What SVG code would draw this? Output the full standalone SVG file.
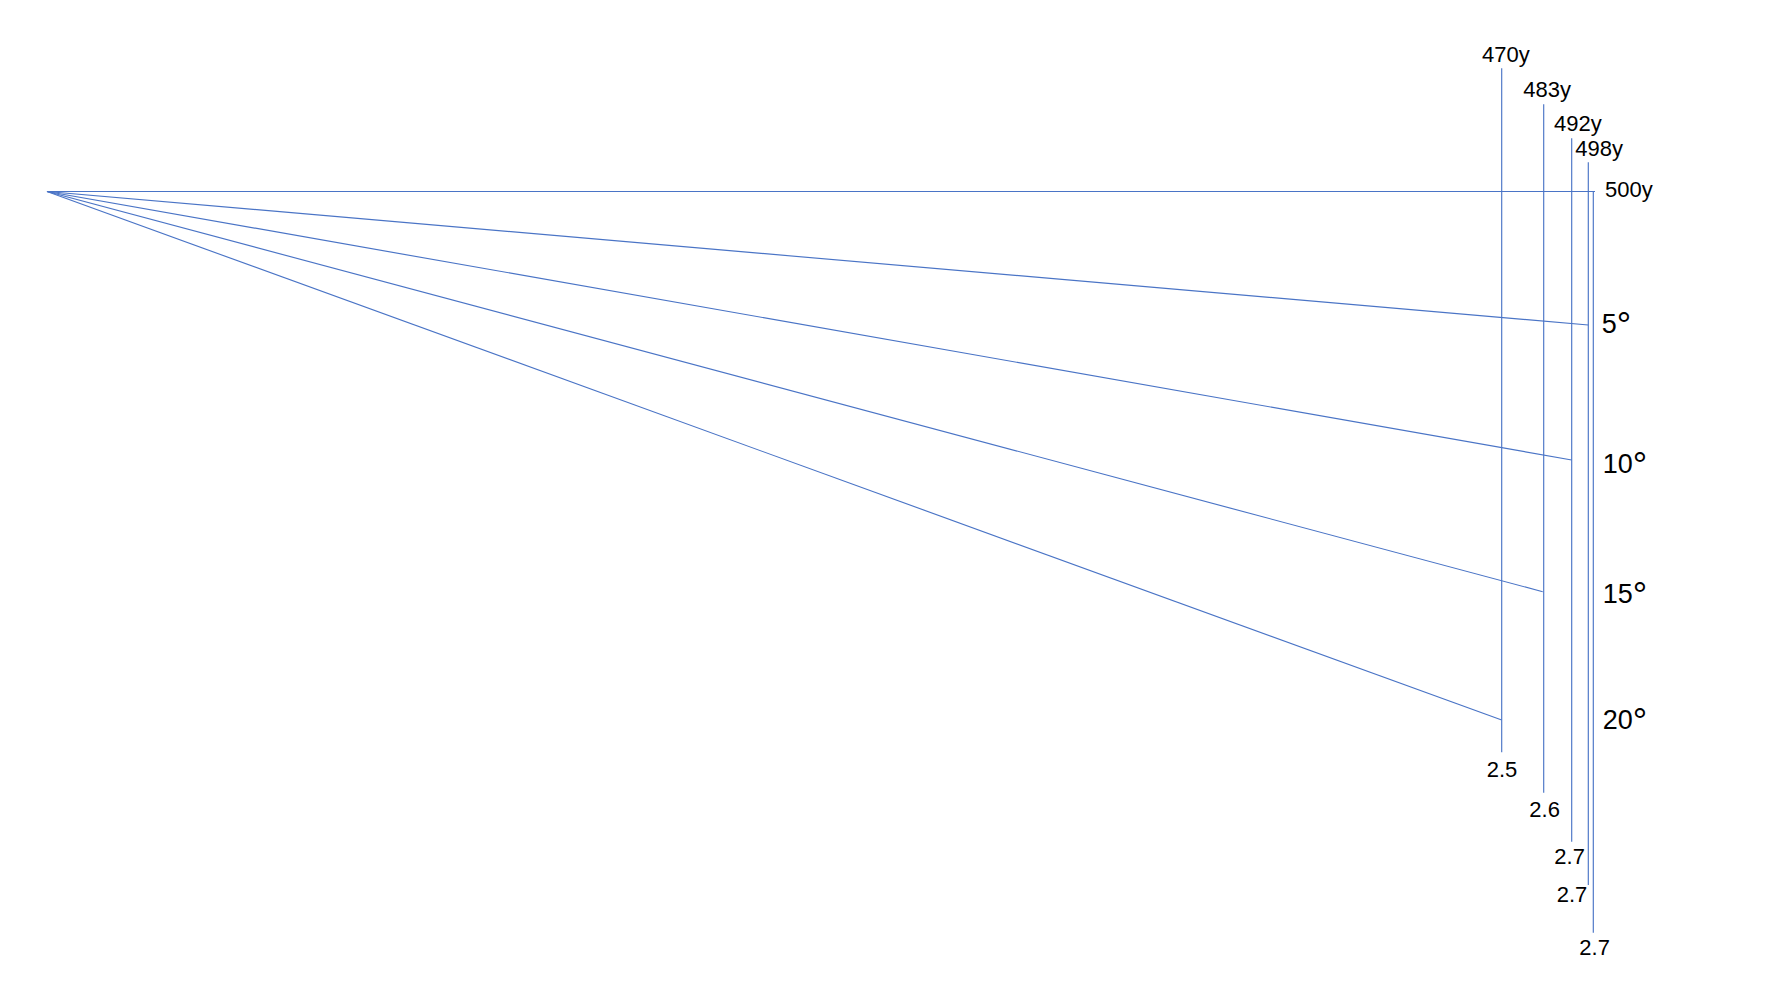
<svg xmlns="http://www.w3.org/2000/svg" width="1770" height="996" viewBox="0 0 1770 996">
<style>
.ln{stroke:#4A74C6;stroke-width:1.15;fill:none}
.t{font-family:"Liberation Sans",Arial,sans-serif;fill:#000}
.s{font-size:22px}
.a{font-size:27px}
.d{font-size:36px}
</style>
<rect width="1770" height="996" fill="#fff"/>
<g id="connectors">
<line class="ln" x1="47" y1="191.5" x2="1595" y2="191.5"/>
<line class="ln" x1="47" y1="191.5" x2="1588.3" y2="325"/>
<line class="ln" x1="47" y1="191.5" x2="1571.7" y2="460"/>
<line class="ln" x1="47" y1="191.5" x2="1542.7" y2="591.7"/>
<line class="ln" x1="47" y1="191.5" x2="1501.7" y2="720"/>
<line class="ln" x1="1501.7" y1="68.3" x2="1501.7" y2="752.3"/>
<line class="ln" x1="1543.7" y1="104.3" x2="1543.7" y2="792.7"/>
<line class="ln" x1="1571.7" y1="138.3" x2="1571.7" y2="841.7"/>
<line class="ln" x1="1588.3" y1="162.3" x2="1588.3" y2="885"/>
<line class="ln" x1="1593.3" y1="191.5" x2="1593.3" y2="932.7"/>
</g>
<g id="top-labels">
<text class="t s" x="1482" y="61.7">470y</text>
<text class="t s" x="1523.3" y="96.7">483y</text>
<text class="t s" x="1554" y="130.7">492y</text>
<text class="t s" x="1575.3" y="156">498y</text>
<text class="t s" x="1605" y="196.7">500y</text>
</g>
<g id="angle-labels">
<text class="t a" x="1601.7" y="333.3">5<tspan class="d" dy="5">°</tspan></text>
<text class="t a" x="1602.7" y="472.7">10<tspan class="d" dy="5">°</tspan></text>
<text class="t a" x="1602.7" y="602.7">15<tspan class="d" dy="5">°</tspan></text>
<text class="t a" x="1602.7" y="729.3">20<tspan class="d" dy="5">°</tspan></text>
</g>
<g id="bottom-labels">
<text class="t s" x="1486.7" y="776.7">2.5</text>
<text class="t s" x="1529.3" y="817.3">2.6</text>
<text class="t s" x="1554.3" y="864">2.7</text>
<text class="t s" x="1556.7" y="901.7">2.7</text>
<text class="t s" x="1579.3" y="955">2.7</text>
</g>
</svg>
